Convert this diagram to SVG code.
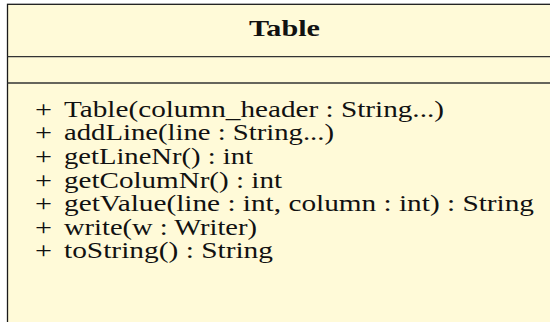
<svg xmlns="http://www.w3.org/2000/svg" width="550" height="322" viewBox="0 0 550 322">
<style>
.box{fill:#FFFAD8;stroke:#1a1a1a;stroke-width:1.3}
.div{stroke:#333;stroke-width:1.3;fill:none}
.t{font-family:"Liberation Serif","DejaVu Serif",serif;font-size:23.5px;fill:#111}
.title{font-family:"Liberation Serif","DejaVu Serif",serif;font-size:23px;font-weight:bold;fill:#111}
</style>
<rect width="550" height="322" fill="#ffffff"/>
<g id="Table">
<rect class="box" x="7.5" y="4.3" width="560" height="340"/>
<line class="div" x1="7.5" y1="56.7" x2="567.5" y2="56.7"/>
<line class="div" x1="7.5" y1="83" x2="567.5" y2="83"/>
<text class="title" x="249" y="35.7" textLength="71" lengthAdjust="spacingAndGlyphs">Table</text>
<text class="t" x="35" y="116.7" textLength="17" lengthAdjust="spacingAndGlyphs">+</text>
<text class="t" x="64" y="116.7" textLength="380" lengthAdjust="spacingAndGlyphs">Table(column_header : String...)</text>
<text class="t" x="35" y="140.3" textLength="17" lengthAdjust="spacingAndGlyphs">+</text>
<text class="t" x="64" y="140.3" textLength="270" lengthAdjust="spacingAndGlyphs">addLine(line : String...)</text>
<text class="t" x="35" y="163.9" textLength="17" lengthAdjust="spacingAndGlyphs">+</text>
<text class="t" x="64" y="163.9" textLength="189" lengthAdjust="spacingAndGlyphs">getLineNr() : int</text>
<text class="t" x="35" y="187.5" textLength="17" lengthAdjust="spacingAndGlyphs">+</text>
<text class="t" x="64" y="187.5" textLength="218" lengthAdjust="spacingAndGlyphs">getColumNr() : int</text>
<text class="t" x="35" y="211.1" textLength="17" lengthAdjust="spacingAndGlyphs">+</text>
<text class="t" x="64" y="211.1" textLength="470" lengthAdjust="spacingAndGlyphs">getValue(line : int, column : int) : String</text>
<text class="t" x="35" y="234.7" textLength="17" lengthAdjust="spacingAndGlyphs">+</text>
<text class="t" x="64" y="234.7" textLength="193" lengthAdjust="spacingAndGlyphs">write(w : Writer)</text>
<text class="t" x="35" y="258.3" textLength="17" lengthAdjust="spacingAndGlyphs">+</text>
<text class="t" x="64" y="258.3" textLength="209" lengthAdjust="spacingAndGlyphs">toString() : String</text>
</g>
<g id="connectors"/>
</svg>
